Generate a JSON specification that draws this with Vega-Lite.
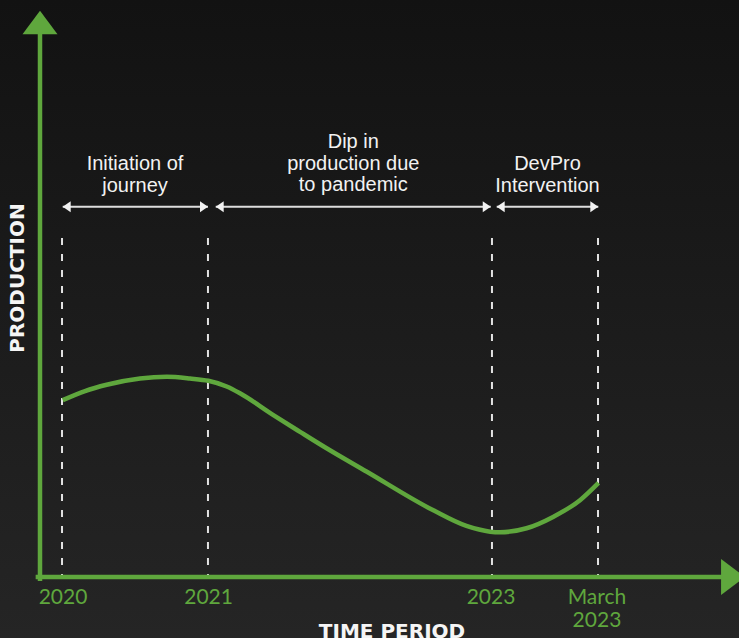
{
  "$schema": "https://vega.github.io/schema/vega-lite/v6.json",
  "width": 739,
  "height": 638,
  "padding": 0,
  "autosize": {"type": "none"},
  "background": "#1c1c1c",
  "config": {
    "view": {
      "stroke": null,
      "fill": {"gradient": "linear", "x1": 0, "y1": 0, "x2": 0, "y2": 1,
        "stops": [{"offset": 0, "color": "#121212"}, {"offset": 1, "color": "#252525"}]}
    }
  },
  "datasets": {
    "curve": [
      {"x": 3.25, "y": 31.2}, {"x": 6.44, "y": 32.8}, {"x": 9.54, "y": 33.9}, {"x": 14.31, "y": 35.0},
      {"x": 18.13, "y": 35.3}, {"x": 21.46, "y": 35.0}, {"x": 24.08, "y": 34.6}, {"x": 26.71, "y": 33.6},
      {"x": 28.61, "y": 32.4}, {"x": 33.33, "y": 28.6}, {"x": 37.2, "y": 25.6}, {"x": 41.0, "y": 22.7},
      {"x": 46.7, "y": 18.6}, {"x": 56.2, "y": 11.8}, {"x": 61.0, "y": 9.0}, {"x": 64.4, "y": 8.0},
      {"x": 65.8, "y": 7.9}, {"x": 69.6, "y": 8.6}, {"x": 73.4, "y": 10.6}, {"x": 77.3, "y": 13.6},
      {"x": 79.9, "y": 16.6}
    ],
    "milestones": [
      {"x": 3.15, "y": 59.8, "y2": 0},
      {"x": 24.03, "y": 59.8, "y2": 0},
      {"x": 64.66, "y": 59.8, "y2": 0},
      {"x": 79.83, "y": 59.8, "y2": 0}
    ],
    "spans": [
      {"x": 3.25, "x2": 24.03, "y": 65.3},
      {"x": 25.14, "x2": 64.48, "y": 65.3},
      {"x": 65.34, "x2": 79.87, "y": 65.3}
    ],
    "spanStarts": [
      {"x": 3.25, "y": 65.3}, {"x": 25.14, "y": 65.3}, {"x": 65.34, "y": 65.3}
    ],
    "spanEnds": [
      {"x": 24.03, "y": 65.3}, {"x": 64.48, "y": 65.3}, {"x": 79.87, "y": 65.3}
    ],
    "phases": [
      {"label": "Initiation of\njourney", "x": 13.59, "y": 71.78},
      {"label": "Dip in\nproduction due\nto pandemic", "x": 44.82, "y": 75.61},
      {"label": "DevPro\nIntervention", "x": 72.6, "y": 71.78}
    ],
    "ticks": [
      {"label": "2020", "x": 3.29, "y": -4.76},
      {"label": "2021", "x": 24.12, "y": -4.76},
      {"label": "2023", "x": 64.52, "y": -4.76},
      {"label": "March\n2023", "x": 79.68, "y": -4.76}
    ],
    "axisY": [{"x": 0, "y": -0.3, "y2": 97}],
    "axisX": [{"x": -0.3, "x2": 98, "y": 0}],
    "arrowY": [{"x": 0, "y": 99.88}],
    "arrowX": [{"x": 100.86, "y": 0}],
    "titleX": [{"label": "TIME PERIOD", "x": 50.36, "y": -10.7}],
    "titleY": [{"label": "PRODUCTION", "x": -2.25, "y": 52.73}]
  },
  "encoding": {
    "x": {"field": "x", "type": "quantitative", "scale": {"domain": [-5.722, 100], "nice": false, "zero": false}, "axis": null},
    "y": {"field": "y", "type": "quantitative", "scale": {"domain": [-10.758, 101.764], "nice": false, "zero": false}, "axis": null}
  },
  "layer": [
    {
      "data": {"name": "milestones"},
      "mark": {"type": "rule", "color": "#e2e2e2", "strokeWidth": 2, "strokeDash": [7, 9]},
      "encoding": {"y2": {"field": "y2"}}
    },
    {
      "data": {"name": "spans"},
      "mark": {"type": "rule", "color": "#dedede", "strokeWidth": 2},
      "encoding": {"x2": {"field": "x2"}}
    },
    {
      "data": {"name": "spanStarts"},
      "mark": {"type": "point", "shape": "M0,0L1.45,-1L1.45,1Z", "size": 121, "filled": true, "opacity": 1, "color": "#f2f2f2", "strokeWidth": 0},
      "encoding": {}
    },
    {
      "data": {"name": "spanEnds"},
      "mark": {"type": "point", "shape": "M0,0L-1.45,-1L-1.45,1Z", "size": 121, "filled": true, "opacity": 1, "color": "#f2f2f2", "strokeWidth": 0},
      "encoding": {}
    },
    {
      "data": {"name": "phases"},
      "mark": {"type": "text", "lineBreak": "\n", "font": "Liberation Sans", "fontSize": 20, "lineHeight": 21.5, "color": "#f2f2f2", "align": "center", "baseline": "alphabetic"},
      "encoding": {"text": {"field": "label"}}
    },
    {
      "data": {"name": "curve"},
      "mark": {"type": "line", "color": "#5fa73d", "strokeWidth": 4.5, "interpolate": "monotone"},
      "encoding": {}
    },
    {
      "data": {"name": "axisY"},
      "mark": {"type": "rule", "color": "#5fa73d", "strokeWidth": 4.5, "strokeCap": "square"},
      "encoding": {"y2": {"field": "y2"}}
    },
    {
      "data": {"name": "axisX"},
      "mark": {"type": "rule", "color": "#5fa73d", "strokeWidth": 4.5, "strokeCap": "square"},
      "encoding": {"x2": {"field": "x2"}}
    },
    {
      "data": {"name": "arrowY"},
      "mark": {"type": "point", "shape": "M0,0L1,1.35L-1,1.35Z", "size": 1225, "filled": true, "opacity": 1, "color": "#5fa73d", "strokeWidth": 0},
      "encoding": {}
    },
    {
      "data": {"name": "arrowX"},
      "mark": {"type": "point", "shape": "M0,0L-1.33,-1L-1.33,1Z", "size": 1296, "filled": true, "opacity": 1, "color": "#5fa73d", "strokeWidth": 0},
      "encoding": {}
    },
    {
      "data": {"name": "ticks"},
      "mark": {"type": "text", "lineBreak": "\n", "font": "Lato", "fontSize": 21, "lineHeight": 23, "color": "#5fa73d", "align": "center", "baseline": "alphabetic"},
      "encoding": {"text": {"field": "label"}}
    },
    {
      "data": {"name": "titleX"},
      "mark": {"type": "text", "font": "DejaVu Sans", "fontWeight": "bold", "fontSize": 20, "color": "#f5f5f5", "align": "center", "baseline": "alphabetic"},
      "encoding": {"text": {"field": "label"}}
    },
    {
      "data": {"name": "titleY"},
      "mark": {"type": "text", "font": "DejaVu Sans", "fontWeight": "bold", "fontSize": 20, "angle": 270, "color": "#f5f5f5", "align": "center", "baseline": "alphabetic"},
      "encoding": {"text": {"field": "label"}}
    }
  ]
}
